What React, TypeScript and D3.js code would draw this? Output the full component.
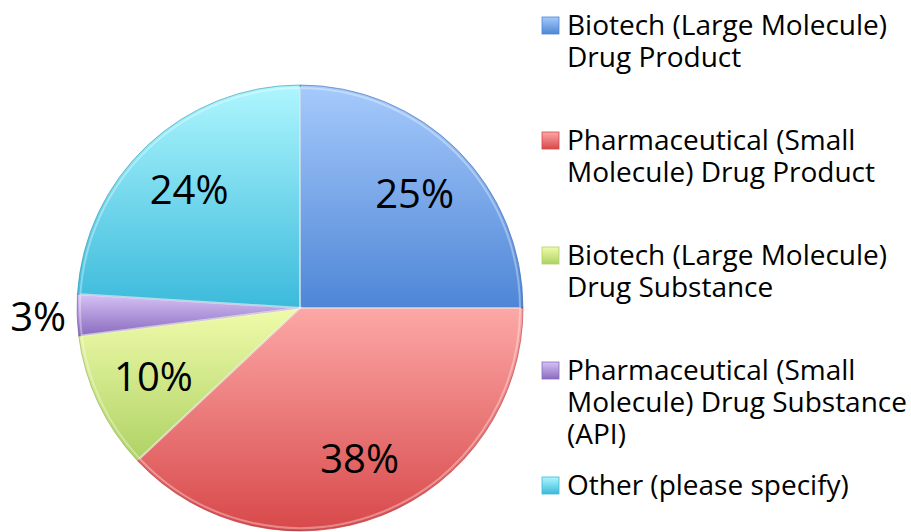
import { useEffect, useRef } from 'react'
import * as d3 from 'd3'

// 데이터
const categories = [
  'Biotech (Large Molecule) Drug Product',
  'Pharmaceutical (Small Molecule) Drug Product',
  'Biotech (Large Molecule) Drug Substance',
  'Pharmaceutical (Small Molecule) Drug Substance (API)',
  'Other (please specify)',
]
const shares = [25, 38, 10, 3, 24]
const legendLines = [
  ['Biotech (Large Molecule)', 'Drug Product'],
  ['Pharmaceutical (Small', 'Molecule) Drug Product'],
  ['Biotech (Large Molecule)', 'Drug Substance'],
  ['Pharmaceutical (Small', 'Molecule) Drug Substance', '(API)'],
  ['Other (please specify)'],
]
const topColors = ['#a6cafc', '#fca8a6', '#f0fbaa', '#d6c2f5', '#aef6fe']
const bottomColors = ['#4e86d6', '#d8484a', '#aed265', '#8a6bbf', '#3cbadb']

export default function App() {
  const svgRef = useRef<SVGSVGElement>(null)

  useEffect(() => {
    if (!svgRef.current) return
    const width = 911
    const height = 532
    const cx = 300
    const cy = 308
    const r = 223

    const svg = d3.select(svgRef.current)
    svg.selectAll('*').remove()
    svg.attr('width', width).attr('height', height)

    const data = categories.map((c, i) => ({ name: c, value: shares[i], i }))

    // 그라데이션
    const defs = svg.append('defs')
    data.forEach(d => {
      const grad = defs
        .append('linearGradient')
        .attr('id', `slice-${d.i}`)
        .attr('x1', 0)
        .attr('y1', 0)
        .attr('x2', 0)
        .attr('y2', 1)
      grad.append('stop').attr('offset', '0%').attr('stop-color', topColors[d.i])
      grad.append('stop').attr('offset', '100%').attr('stop-color', bottomColors[d.i])
    })

    const pie = d3
      .pie<{ name: string; value: number; i: number }>()
      .value(d => d.value)
      .sort(null)
    const arcs = pie(data)

    const arc = d3.arc<d3.PieArcDatum<any>>().innerRadius(0).outerRadius(r)
    const labelArc = d3.arc<d3.PieArcDatum<any>>().innerRadius(162).outerRadius(162)
    const outerLabelArc = d3.arc<d3.PieArcDatum<any>>().innerRadius(262).outerRadius(262)

    const g = svg.append('g').attr('transform', `translate(${cx},${cy})`)

    g.selectAll('.slice')
      .data(arcs)
      .enter()
      .append('path')
      .attr('class', 'slice')
      .attr('d', arc)
      .attr('fill', d => `url(#slice-${d.data.i})`)
      .attr('stroke', d => d3.color(bottomColors[d.data.i])!.darker(0.6).formatHex())
      .attr('stroke-opacity', 0.6)
      .attr('stroke-width', 1)

    // 베벨 하이라이트
    g.selectAll('.bevel')
      .data(arcs)
      .enter()
      .append('path')
      .attr('class', 'bevel')
      .attr('d', d3.arc<d3.PieArcDatum<any>>().innerRadius(0).outerRadius(r - 3))
      .attr('fill', 'none')
      .attr('stroke', '#ffffff')
      .attr('stroke-opacity', 0.35)
      .attr('stroke-width', 2)

    // 값 레이블
    g.selectAll('.value-label')
      .data(arcs)
      .enter()
      .append('text')
      .attr('class', 'value-label')
      .attr('transform', d => {
        const p = d.data.value < 5 ? outerLabelArc.centroid(d) : labelArc.centroid(d)
        return `translate(${p[0]},${p[1]})`
      })
      .attr('text-anchor', 'middle')
      .attr('dy', '0.36em')
      .style('font-family', '"Open Sans", sans-serif')
      .style('font-size', '40px')
      .style('fill', '#000')
      .text(d => `${d.data.value}%`)

    // 범례
    const legend = svg.append('g').attr('transform', 'translate(542,15)')
    const slot = 115
    const lineH = 32
    legendLines.forEach((lines, i) => {
      const item = legend.append('g').attr('transform', `translate(0,${i * slot})`)
      item
        .append('rect')
        .attr('x', 0)
        .attr('y', 2)
        .attr('width', 17)
        .attr('height', 17)
        .attr('fill', `url(#slice-${i})`)
        .attr('stroke', bottomColors[i])
        .attr('stroke-width', 0.8)
      const text = item
        .append('text')
        .attr('x', 25)
        .attr('y', 20)
        .style('font-family', '"Open Sans", sans-serif')
        .style('font-size', '28px')
        .style('fill', '#000')
      lines.forEach((line, j) => {
        text
          .append('tspan')
          .attr('x', 25)
          .attr('y', 20 + j * lineH)
          .text(line)
      })
    })
  }, [])

  return (
    <div style={{ position: 'absolute', left: 0, top: 0 }}>
      <svg ref={svgRef} style={{ display: 'block', background: '#fff' }}></svg>
    </div>
  )
}
